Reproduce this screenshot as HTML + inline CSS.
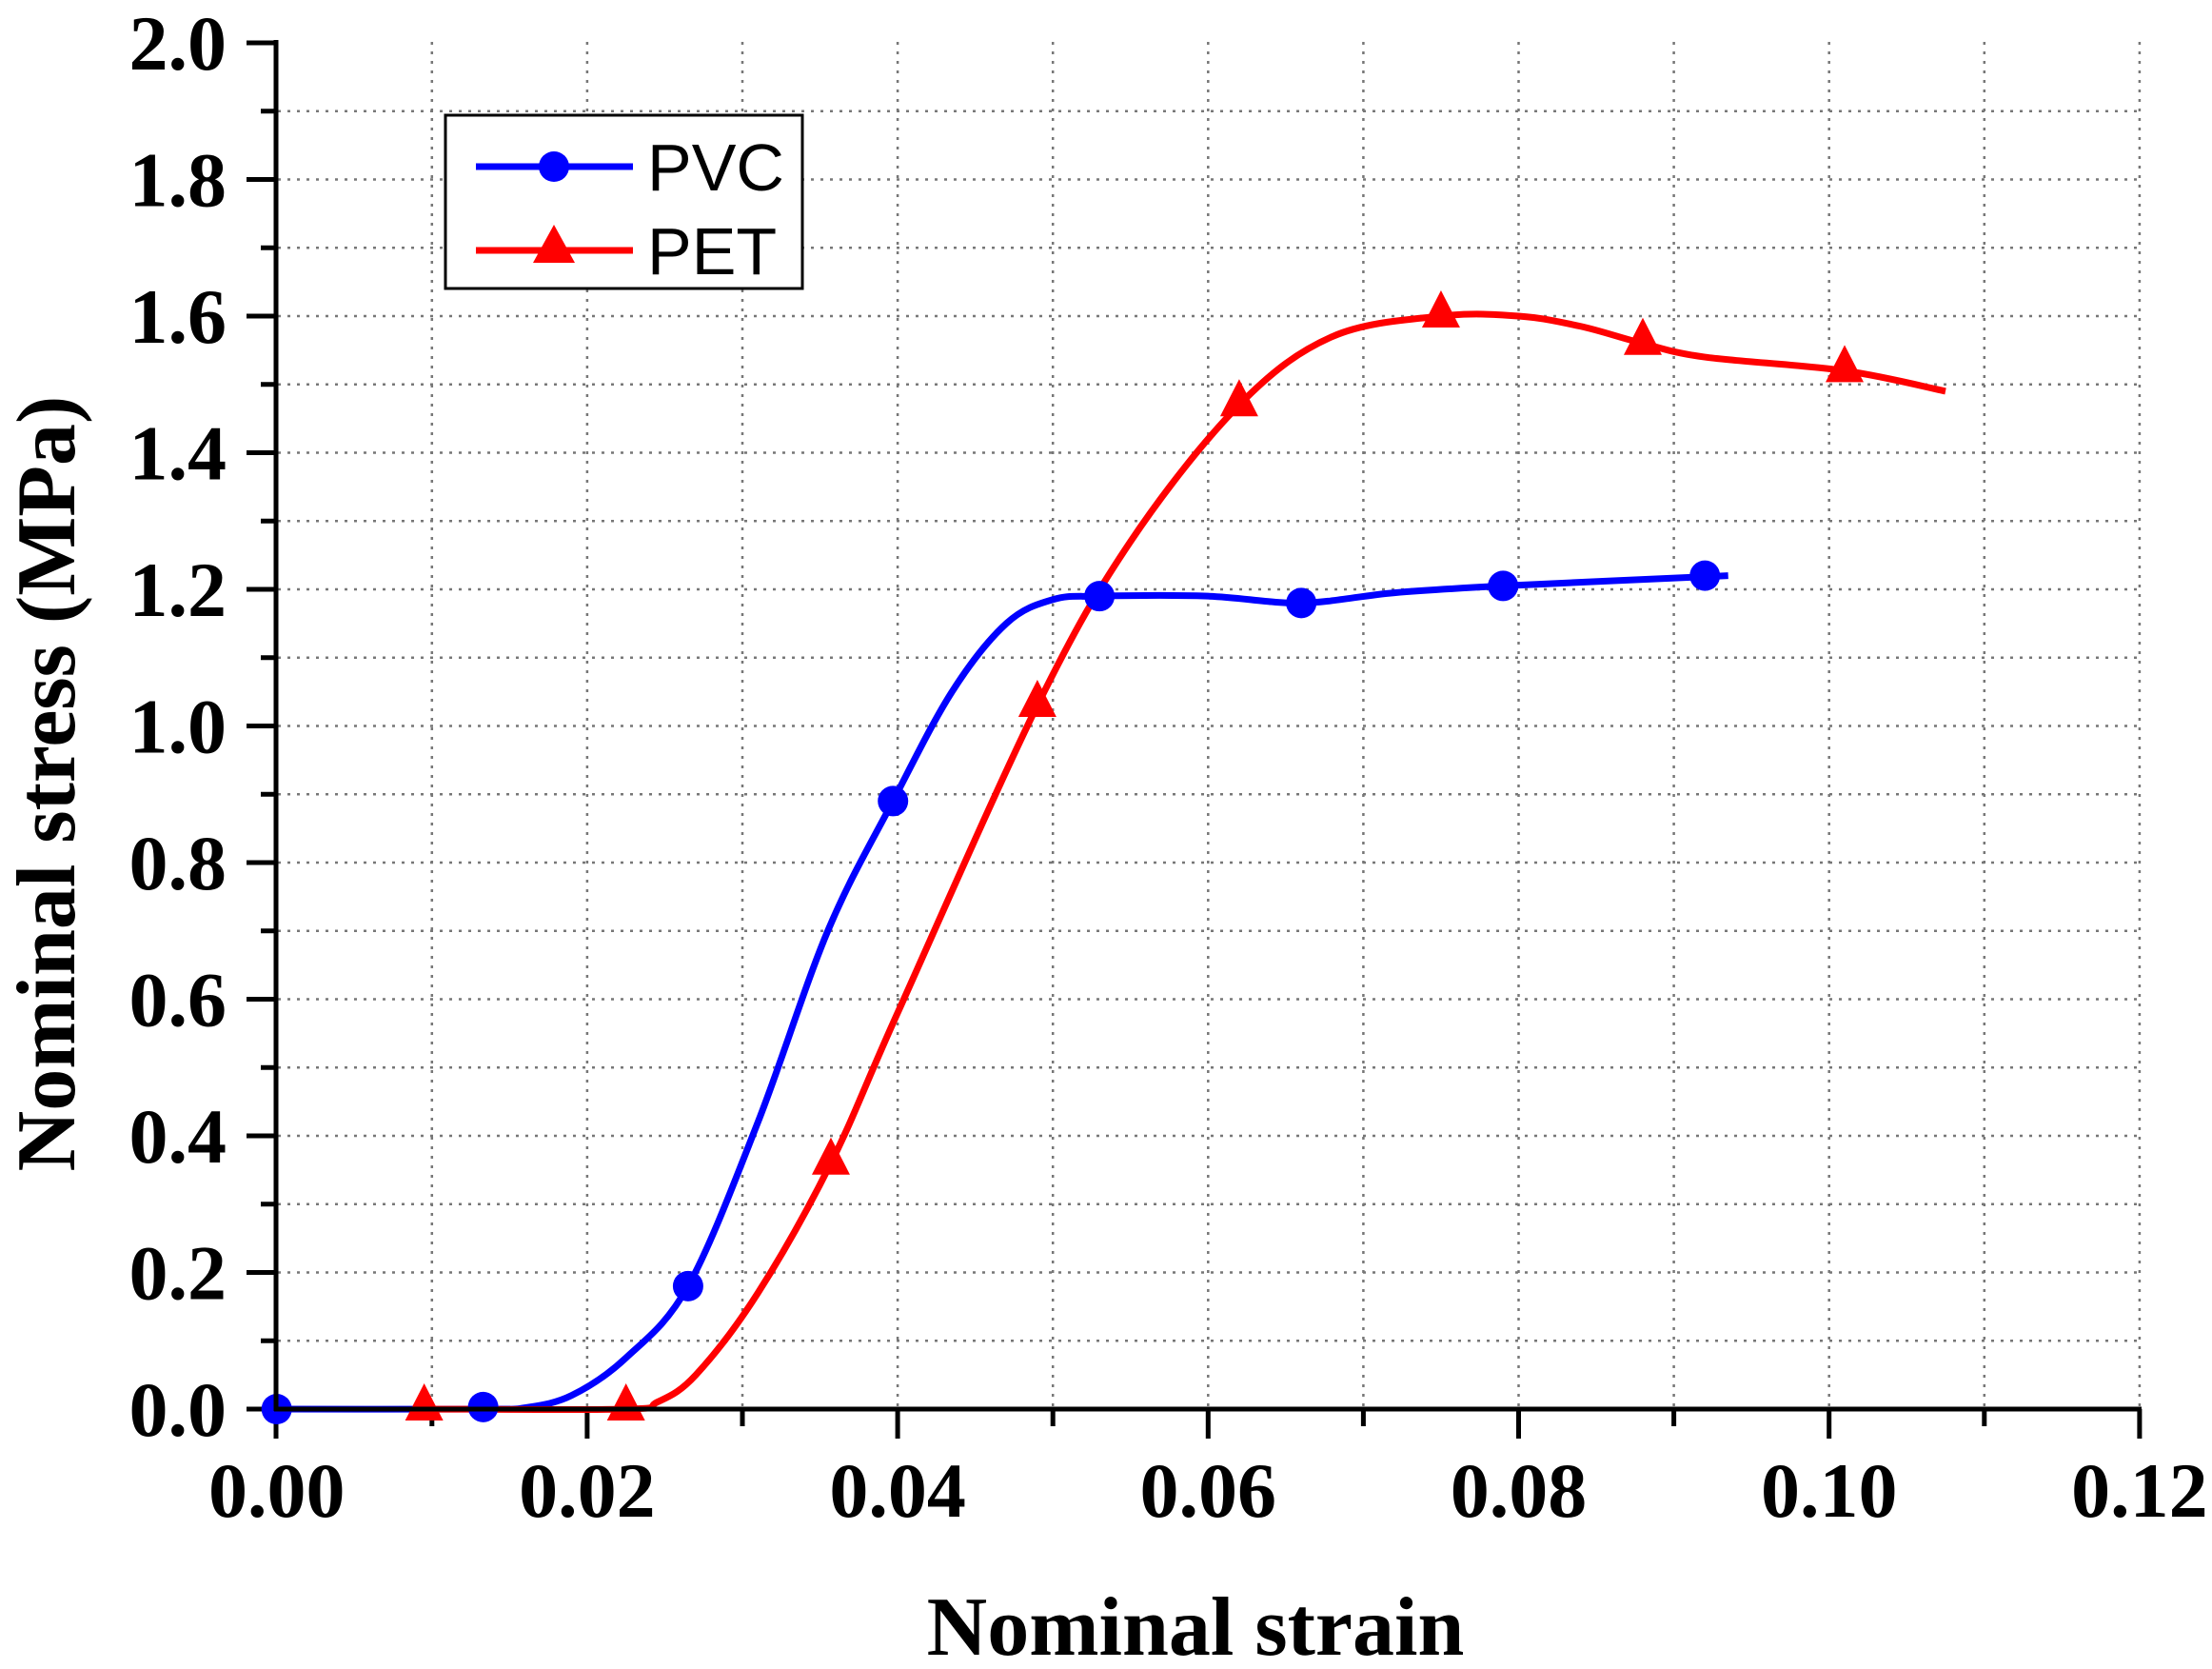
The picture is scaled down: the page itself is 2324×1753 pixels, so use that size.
<!DOCTYPE html>
<html><head><meta charset="utf-8"><style>
html,body{margin:0;padding:0;background:#fff}
svg{display:block}
text{font-family:"Liberation Serif",serif;font-weight:bold;fill:#000}
</style></head><body>
<svg id="s" width="2324" height="1753" viewBox="0 0 2324 1753" xmlns="http://www.w3.org/2000/svg">
<rect width="2324" height="1753" fill="#fff"/>
<g id="grid" stroke="#777" stroke-width="2.5" stroke-dasharray="3,7"></g>
<g id="ticks" stroke="#000" stroke-width="5"></g>
<g id="labels" font-size="82"></g>
<g id="series"></g>
<line x1="290" y1="42" x2="290" y2="1482" stroke="#000" stroke-width="5"/>
<line x1="288" y1="1480" x2="2250" y2="1480" stroke="#000" stroke-width="5"/>
<text x="1256" y="1738" font-size="88" text-anchor="middle">Nominal strain</text>
<text transform="translate(78,823) rotate(-90)" font-size="88" text-anchor="middle">Nominal stress (MPa)</text>
<rect x="468" y="121" width="375" height="182" fill="#fff" stroke="#000" stroke-width="3"/>
<line x1="500" y1="175" x2="665" y2="175" stroke="#00f" stroke-width="7"/>
<circle cx="582" cy="175" r="16" fill="#00f"/>
<line x1="500" y1="263" x2="665" y2="263" stroke="#f00" stroke-width="7"/>
<polygon points="582,236 560,276 604,276" fill="#f00"/>
<text x="680" y="200" font-size="70" style="font-family:'Liberation Sans',sans-serif;font-weight:normal">PVC</text>
<text x="680" y="288" font-size="70" style="font-family:'Liberation Sans',sans-serif;font-weight:normal">PET</text>
</svg>
<script>
var NS="http://www.w3.org/2000/svg";
function X(v){return 290.7+v/0.02*326.2}
function Y(v){return 1480-v/0.2*143.5}
function el(p,t,a){var e=document.createElementNS(NS,t);for(var k in a)e.setAttribute(k,a[k]);document.getElementById(p).appendChild(e);return e}
for(var i=1;i<=12;i++){var x=X(i*0.01);el("grid","line",{x1:x,y1:44,x2:x,y2:1478});
 el("ticks","line",{x1:x,y1:1480,x2:x,y2:i%2==0?1511:1498});}
for(var j=1;j<=20;j++){var y=Y(j*0.1);if(j<20)el("grid","line",{x1:292,y1:y,x2:2250,y2:y});
 el("ticks","line",{x1:290,y1:y,x2:j%2==0?259:274,y2:y});}
el("ticks","line",{x1:290,y1:1480,x2:259,y2:1480});
el("ticks","line",{x1:290,y1:1480,x2:290,y2:1511});
for(var j=0;j<=10;j++){var t=el("labels","text",{x:238,y:Y(j*0.2)+28,"text-anchor":"end"});t.textContent=(j*0.2).toFixed(1);}
for(var i=0;i<=6;i++){var t=el("labels","text",{x:X(i*0.02),y:1593,"text-anchor":"middle"});t.textContent=(i*0.02).toFixed(2);}
function path(pts){var P=pts.map(function(p){return [X(p[0]),Y(p[1])]});var d="M"+P[0][0]+","+P[0][1];
 for(var i=0;i<P.length-1;i++){var p0=P[Math.max(0,i-1)],p1=P[i],p2=P[i+1],p3=P[Math.min(P.length-1,i+2)];
 d+=" C"+(p1[0]+(p2[0]-p0[0])/6)+","+(p1[1]+(p2[1]-p0[1])/6)+" "+(p2[0]-(p3[0]-p1[0])/6)+","+(p2[1]-(p3[1]-p1[1])/6)+" "+p2[0]+","+p2[1];}
 return d;}
var pvc=[[0,0],[0.0133,0],[0.016,0.002],[0.019,0.02],[0.0225,0.075],[0.0265,0.18],[0.031,0.42],[0.0355,0.7],[0.0397,0.89],[0.0435,1.05],[0.047,1.15],[0.05,1.185],[0.053,1.19],[0.06,1.19],[0.066,1.18],[0.072,1.195],[0.079,1.205],[0.0935,1.22]];
var pet=[[0.0095,0],[0.0225,0],[0.0245,0.01],[0.027,0.05],[0.031,0.17],[0.0357,0.36],[0.04,0.58],[0.049,1.03],[0.055,1.27],[0.062,1.47],[0.068,1.57],[0.075,1.6],[0.08,1.6],[0.084,1.585],[0.088,1.56],[0.092,1.54],[0.101,1.52],[0.1075,1.49]];
el("series","path",{d:path(pvc),fill:"none",stroke:"#00f","stroke-width":7});
el("series","path",{d:path(pet),fill:"none",stroke:"#f00","stroke-width":7});
[0,0.0133,0.0265,0.0397,0.053,0.066,0.079,0.092].forEach(function(x,i){var yv=[0,0.003,0.18,0.89,1.19,1.18,1.205,1.22][i];
 el("series","circle",{cx:X(x),cy:Y(yv),r:16,fill:"#00f"});});
[0.0095,0.0225,0.0357,0.049,0.062,0.075,0.088,0.101].forEach(function(x,i){var yv=[0,0,0.36,1.03,1.47,1.6,1.56,1.52][i];
 var cx=X(x),cy=Y(yv);el("series","polygon",{points:cx+","+(cy-27)+" "+(cx-20)+","+(cy+12)+" "+(cx+20)+","+(cy+12),fill:"#f00"});});
</script>
</body></html>
